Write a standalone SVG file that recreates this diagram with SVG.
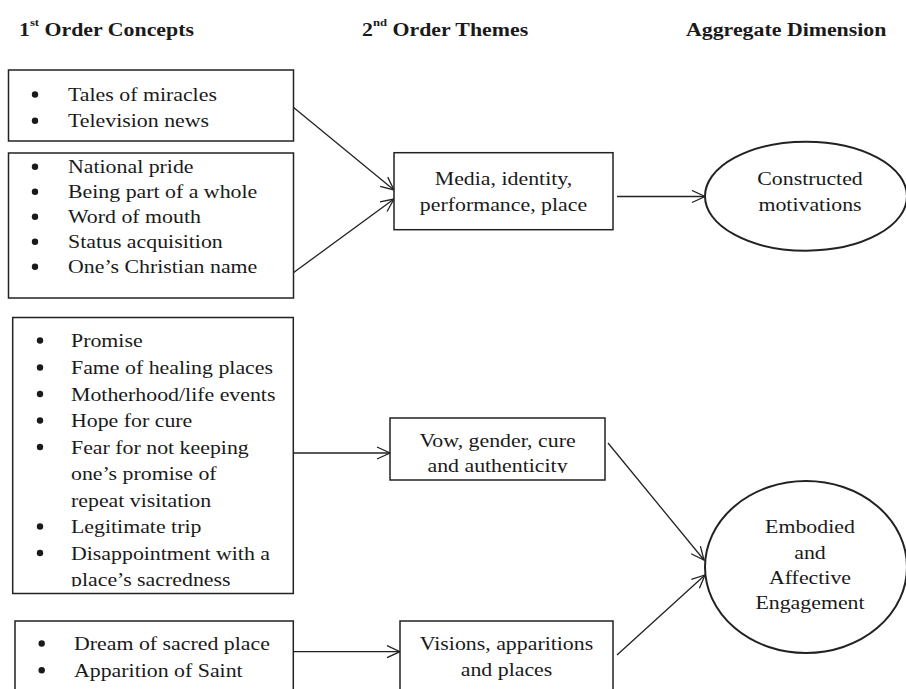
<svg xmlns="http://www.w3.org/2000/svg" width="906" height="689" viewBox="0 0 906 689">
<style>
.bg{fill:#fff}
.box{fill:#fff;stroke:#222;stroke-width:1.5}
.ell{fill:#fff;stroke:#222;stroke-width:2}
.t{font-family:"Liberation Serif","Times New Roman",serif;font-size:19px;fill:#1a1a1a}
.c{text-anchor:middle}
.h{font-family:"Liberation Serif","Times New Roman",serif;font-size:19px;font-weight:bold;fill:#1a1a1a}
.sup{font-size:11px}
.dot{fill:#1a1a1a}
.conn{fill:none;stroke:#222;stroke-width:1.3;marker-end:url(#ah)}
</style>
<defs>
<marker id="ah" markerUnits="userSpaceOnUse" markerWidth="16" markerHeight="14" viewBox="-1 -1 16 14" refX="13" refY="6" orient="auto">
<path d="M0,0 L13,6 L0,12" fill="none" stroke="#222" stroke-width="1.3"/>
</marker>
<clipPath id="clipPlace"><rect x="0" y="560" width="300" height="26.5"/></clipPath>
<clipPath id="clipAuth"><rect x="380" y="452" width="240" height="21"/></clipPath>
</defs>
<rect class="bg" x="0" y="0" width="906" height="689"/>

<g id="headers">
<text class="h" transform="translate(19,36) scale(1.15,1)">1<tspan class="sup" dy="-10">st</tspan><tspan dy="10"> Order Concepts</tspan></text>
<text class="h" transform="translate(362,36) scale(1.15,1)">2<tspan class="sup" dy="-10">nd</tspan><tspan dy="10"> Order Themes</tspan></text>
<text class="h" transform="translate(686,36) scale(1.15,1)">Aggregate Dimension</text>
</g>

<g id="connectors">
<line class="conn" x1="293" y1="107" x2="394" y2="190"/>
<line class="conn" x1="293" y1="273" x2="394" y2="199"/>
<line class="conn" x1="617" y1="196.5" x2="705" y2="196.5"/>
<line class="conn" x1="293" y1="453" x2="390" y2="453"/>
<line class="conn" x1="293" y1="651.7" x2="400" y2="651.7"/>
<line class="conn" x1="608" y1="443" x2="704" y2="560"/>
<line class="conn" x1="617" y1="655" x2="705" y2="575"/>
</g>

<g id="concepts-media">
<rect class="box" x="8.5" y="70" width="285" height="71"/>
<circle class="dot" cx="35" cy="94.5" r="3.2"/>
<text class="t" transform="translate(68,101) scale(1.15,1)">Tales of miracles</text>
<circle class="dot" cx="35" cy="120.8" r="3.2"/>
<text class="t" transform="translate(68,127.3) scale(1.15,1)">Television news</text>
</g>

<g id="concepts-identity">
<rect class="box" x="8.5" y="153" width="285" height="145"/>
<circle class="dot" cx="35" cy="166.8" r="3.2"/>
<text class="t" transform="translate(68,173.3) scale(1.15,1)">National pride</text>
<circle class="dot" cx="35" cy="191.8" r="3.2"/>
<text class="t" transform="translate(68,198.3) scale(1.15,1)">Being part of a whole</text>
<circle class="dot" cx="35" cy="216.8" r="3.2"/>
<text class="t" transform="translate(68,223.3) scale(1.15,1)">Word of mouth</text>
<circle class="dot" cx="35" cy="241.8" r="3.2"/>
<text class="t" transform="translate(68,248.3) scale(1.15,1)">Status acquisition</text>
<circle class="dot" cx="35" cy="266.8" r="3.2"/>
<text class="t" transform="translate(68,273.3) scale(1.15,1)">One’s Christian name</text>
</g>

<g id="concepts-vow">
<rect class="box" x="12.7" y="317.5" width="280.6" height="276"/>
<circle class="dot" cx="40" cy="340.5" r="3.2"/>
<text class="t" transform="translate(71,347) scale(1.15,1)">Promise</text>
<circle class="dot" cx="40" cy="367.5" r="3.2"/>
<text class="t" transform="translate(71,374) scale(1.15,1)">Fame of healing places</text>
<circle class="dot" cx="40" cy="394" r="3.2"/>
<text class="t" transform="translate(71,400.5) scale(1.15,1)">Motherhood/life events</text>
<circle class="dot" cx="40" cy="420.5" r="3.2"/>
<text class="t" transform="translate(71,427) scale(1.15,1)">Hope for cure</text>
<circle class="dot" cx="40" cy="447" r="3.2"/>
<text class="t" transform="translate(71,453.5) scale(1.15,1)">Fear for not keeping</text>
<text class="t" transform="translate(71,480) scale(1.15,1)">one’s promise of</text>
<text class="t" transform="translate(71,506.5) scale(1.15,1)">repeat visitation</text>
<circle class="dot" cx="40" cy="526.5" r="3.2"/>
<text class="t" transform="translate(71,533) scale(1.15,1)">Legitimate trip</text>
<circle class="dot" cx="40" cy="553" r="3.2"/>
<text class="t" transform="translate(71,559.5) scale(1.15,1)">Disappointment with a</text>
<g clip-path="url(#clipPlace)">
<text class="t" transform="translate(71,585.5) scale(1.15,1)">place’s sacredness</text>
</g>
</g>

<g id="concepts-visions">
<rect class="box" x="15" y="621" width="278.3" height="90"/>
<circle class="dot" cx="41.7" cy="643.5" r="3.2"/>
<text class="t" transform="translate(74,650) scale(1.15,1)">Dream of sacred place</text>
<circle class="dot" cx="41.7" cy="670.2" r="3.2"/>
<text class="t" transform="translate(74,676.7) scale(1.15,1)">Apparition of Saint</text>
</g>

<g id="theme-media">
<rect class="box" x="394" y="152.7" width="219" height="77"/>
<text class="t c" transform="translate(503.5,185) scale(1.15,1)">Media, identity,</text>
<text class="t c" transform="translate(503.5,211) scale(1.15,1)">performance, place</text>
</g>

<g id="theme-vow">
<rect class="box" x="390" y="418" width="215" height="62"/>
<text class="t c" transform="translate(497.5,446.5) scale(1.15,1)">Vow, gender, cure</text>
<g clip-path="url(#clipAuth)">
<text class="t c" transform="translate(497.5,471.7) scale(1.15,1)">and authenticity</text>
</g>
</g>

<g id="theme-visions">
<rect class="box" x="400" y="621" width="213" height="90"/>
<text class="t c" transform="translate(506.5,650) scale(1.15,1)">Visions, apparitions</text>
<text class="t c" transform="translate(506.5,676) scale(1.15,1)">and places</text>
</g>

<g id="dim-constructed">
<ellipse class="ell" cx="806" cy="196.2" rx="101" ry="54.5"/>
<text class="t c" transform="translate(810,185) scale(1.15,1)">Constructed</text>
<text class="t c" transform="translate(810,211) scale(1.15,1)">motivations</text>
</g>

<g id="dim-embodied">
<ellipse class="ell" cx="806" cy="567" rx="101" ry="86"/>
<text class="t c" transform="translate(810,533) scale(1.15,1)">Embodied</text>
<text class="t c" transform="translate(810,558.5) scale(1.15,1)">and</text>
<text class="t c" transform="translate(810,584) scale(1.15,1)">Affective</text>
<text class="t c" transform="translate(810,609) scale(1.15,1)">Engagement</text>
</g>
</svg>
